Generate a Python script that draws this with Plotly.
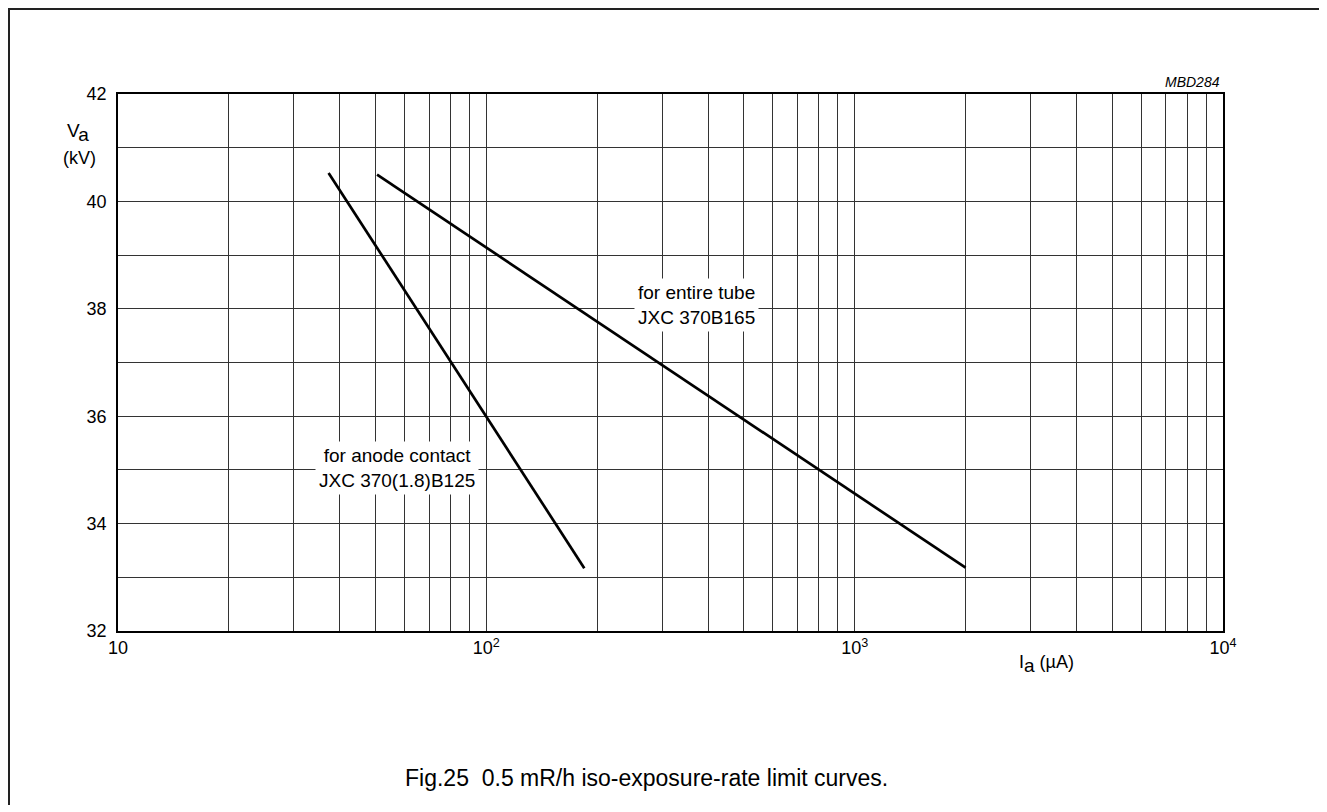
import numpy as np
import plotly.graph_objects as go

# ---- data ----
anode_current = [37.3, 184.5]      # µA
anode_voltage = [40.53, 33.17]     # kV
tube_current = [50.5, 2000.0]      # µA
tube_voltage = [40.50, 33.18]      # kV

x_tick_vals = [m * 10 ** e for e in range(1, 4) for m in range(1, 10)] + [10000]
x_tick_text = ["10" if v == 10 else ("10<sup>%d</sup>" % round(np.log10(v)) if v in (100, 1000, 10000) else "")
               for v in x_tick_vals]
y_tick_vals = list(range(32, 43))
y_tick_text = [str(v) if v % 2 == 0 else "" for v in y_tick_vals]

anode_label = "for anode contact<br>JXC 370(1.8)B125"
anode_label_pos = (57.2, 35.04)
tube_label = "for entire tube<br>JXC 370B165"
tube_label_pos = (373.0, 38.08)
caption = "Fig.25\u00a0 0.5 mR/h iso-exposure-rate limit curves."
code_label = "MBD284"

FONT = "Liberation Sans, Arial, sans-serif"

fig = go.Figure()
fig.add_trace(go.Scatter(x=anode_current, y=anode_voltage, mode="lines",
                         line=dict(color="black", width=2.7), showlegend=False, hoverinfo="skip"))
fig.add_trace(go.Scatter(x=tube_current, y=tube_voltage, mode="lines",
                         line=dict(color="black", width=2.7), showlegend=False, hoverinfo="skip"))

W, H = 1313, 797
OFF = 7  # page offset of the figure in the screenshot
X0, X1, Y0, Y1 = 117, 1222, 93, 630  # target plot area on screen
L, R, T, B = X0 - OFF, W + OFF - X1, Y0 - OFF, H + OFF - Y1

def px(xp):
    return (xp - X0) / (X1 - X0)

def py(yp):
    return (Y1 - yp) / (Y1 - Y0)

fig.update_layout(
    width=W, height=H,
    margin=dict(l=L, r=R, t=T, b=B),
    paper_bgcolor="white", plot_bgcolor="white",
    font=dict(family=FONT, size=18, color="black"),
    xaxis=dict(type="log", range=[1, 4], tickmode="array", tickvals=x_tick_vals, ticktext=x_tick_text,
               showgrid=True, gridcolor="#333", gridwidth=1, zeroline=False,
               showline=True, linecolor="black", linewidth=1.5, mirror=True,
               ticks="", tickfont=dict(size=18, family=FONT), ticklabelstandoff=0),
    yaxis=dict(range=[32, 42], tickmode="array", tickvals=y_tick_vals, ticktext=y_tick_text,
               showgrid=True, gridcolor="#333", gridwidth=1, zeroline=False,
               showline=True, linecolor="black", linewidth=1.5, mirror=True,
               ticks="", tickfont=dict(size=18, family=FONT), ticklabelstandoff=6),
)

SUB = "<sub><span style='font-size:19px'>a</span></sub>"

ann = []
ann.append(dict(x=np.log10(anode_label_pos[0]), y=anode_label_pos[1], xref="x", yref="y",
                text=anode_label, showarrow=False, bgcolor="white", borderpad=3,
                xanchor="center", yanchor="middle", font=dict(size=19, family=FONT)))
ann.append(dict(x=np.log10(tube_label_pos[0]), y=tube_label_pos[1], xref="x", yref="y",
                text=tube_label, showarrow=False, bgcolor="white", borderpad=3,
                xanchor="center", yanchor="middle", font=dict(size=19, family=FONT)))
ann.append(dict(x=px(402), y=py(777), xref="paper", yref="paper", text=caption, showarrow=False,
                xanchor="left", yanchor="middle", font=dict(size=23, family=FONT)))
ann.append(dict(x=px(1221), y=py(81), xref="paper", yref="paper", text="<i>%s</i>" % code_label,
                showarrow=False, xanchor="right", yanchor="middle", font=dict(size=14, family=FONT)))
ann.append(dict(x=px(90), y=py(132), xref="paper", yref="paper", text="V" + SUB, showarrow=False,
                xanchor="right", yanchor="middle", font=dict(size=19, family=FONT)))
ann.append(dict(x=px(78), y=py(157), xref="paper", yref="paper", text="(kV)", showarrow=False,
                xanchor="center", yanchor="middle", font=dict(size=18, family=FONT)))
ann.append(dict(x=px(1016), y=py(663), xref="paper", yref="paper", text="I" + SUB + " (µA)", showarrow=False,
                xanchor="left", yanchor="middle", font=dict(size=18, family=FONT)))
fig.update_layout(annotations=ann)

# outer frame (left, top, right) kept inside the figure's own area
xl, xr, yt, yb = px(OFF + 1), px(OFF + W - 1), py(OFF + 1), py(OFF + H + 20)
fig.add_shape(type="path", xref="paper", yref="paper",
              path=f"M {xl} {yb} L {xl} {yt} L {xr} {yt} L {xr} {yb}",
              line=dict(color="#222", width=2))

fig.write_html("out.html")
